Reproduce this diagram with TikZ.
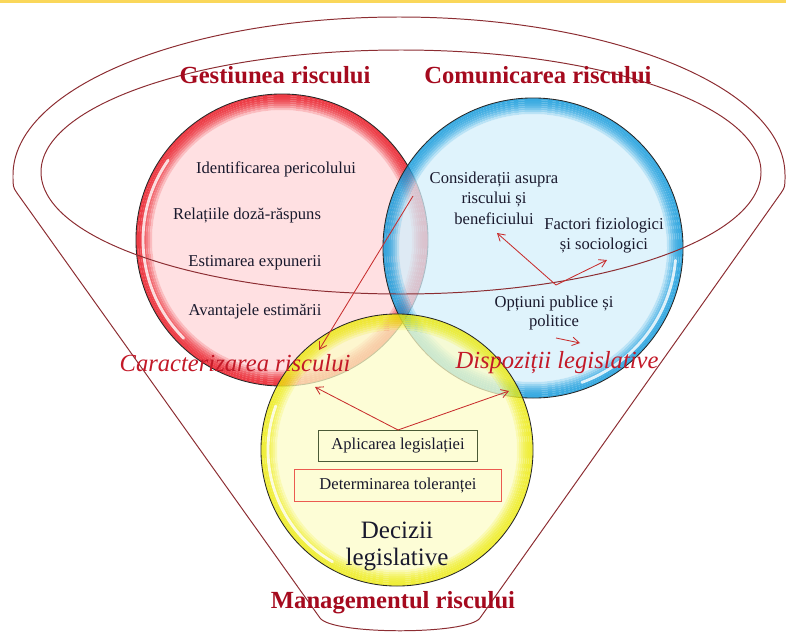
\documentclass[tikz,border=0pt]{standalone}
\usepackage{fontspec}
\setmainfont{Liberation Serif}
\usetikzlibrary{arrows.meta}
\definecolor{titlered}{RGB}{165,10,30}
\definecolor{itred}{RGB}{195,25,40}
\definecolor{linebrown}{RGB}{140,45,50}
\definecolor{arrred}{RGB}{200,45,45}
\definecolor{txtdark}{RGB}{25,25,45}
\definecolor{rd1}{RGB}{255,214,216}
\definecolor{rd2}{RGB}{232,12,24}
\definecolor{bl1}{RGB}{212,239,251}
\definecolor{bl2}{RGB}{10,150,218}
\definecolor{yl1}{RGB}{253,253,200}
\definecolor{yl2}{RGB}{236,234,10}
\definecolor{boxgreen}{RGB}{75,90,55}
\definecolor{boxred}{RGB}{235,90,80}
\definecolor{topband}{RGB}{250,215,90}

\begin{document}
\begin{tikzpicture}[x=0.025cm, y=-0.025cm,
    funnel/.style={draw=linebrown, line width=0.7pt},
    arr/.style={draw=arrred, line width=0.6pt, -{Straight Barb[length=5pt,width=6pt]}},
    inner/.style={text=txtdark, font=\fontsize{11.8}{14.2}\selectfont, align=center, inner sep=1pt},
    title/.style={text=titlered, font=\bfseries\fontsize{17.5}{20}\selectfont},
    itlabel/.style={text=itred, font=\itshape\fontsize{17.5}{20}\selectfont},
    gloss/.style={draw=white, line width=2pt, opacity=0.8, line cap=round}]
\useasboundingbox (0,0) rectangle (786,632);
\fill[topband] (0,0) rectangle (786,3);

% circles: light inside, rings towards the rim
\foreach \n/\cx/\cy/\r/\d in {rd/282/240/146/7.3cm, bl/533/248/150/7.5cm, yl/397/450/136/6.8cm}
{
    \fill[\n1, fill opacity=0.75] (\cx,\cy) circle[radius=\r-16];
    \foreach \k in {0,...,7}
    {
        \pgfmathtruncatemacro{\p}{100-1.6*\k*\k}
        \draw[\n2!\p!\n1, line width=1.42pt, opacity=0.8] (\cx,\cy) circle[radius=\r-1-2*\k];
    }
    \node[circle, draw=black!85, line width=0.6pt, inner sep=0pt, minimum size=\d] (\n) at (\cx,\cy) {};
}
\draw[gloss] (rd.center) ++(135:139) arc[start angle=135, end angle=215, radius=139];
\draw[gloss] (bl.center) ++(5:143) arc[start angle=5, end angle=70, radius=143];
\draw[gloss] (yl.center) ++(120:129) arc[start angle=120, end angle=200, radius=129];

% funnel and ellipse
\draw[funnel] (320,618) -- (17,193) .. controls (13,187) .. (13,175)
    arc[start angle=180, end angle=360, x radius=386, y radius=158]
    .. controls (785,187) .. (781,193) -- (480,618)
    .. controls (468,635) and (332,635) .. (320,618);
\draw[funnel] (401,172) ellipse[x radius=360, y radius=122];

% titles
\node[title] (gest) at (275,75) {Gestiunea riscului};
\node[title] (comun) at (538,75) {Comunicarea riscului};
\node[title] (manag) at (393,603) {Managementul riscului};

\foreach \x/\y/\txt [count=\i] in {276/169/Identificarea pericolului, 247/216/Relațiile doză-răspuns, 255/263/Estimarea expunerii, 255/312/Avantajele estimării}
{
    \node[inner] (g\i) at (\x,\y) {\txt};
}

\node[inner, font=\fontsize{11.8}{14.5}\selectfont] (consid) at (494,198) {Considerații asupra\\riscului și\\beneficiului};
\node[inner] (factori) at (604,235) {Factori fiziologici\\și sociologici};
\node[inner, font=\fontsize{11.8}{13.5}\selectfont] (optiuni) at (554,313) {Opțiuni publice și\\politice};

\node[itlabel] (caract) at (235,363) {Caracterizarea riscului};
\node[itlabel] (dispoz) at (557,363) {Dispoziții legislative};

\node[inner, draw=boxgreen, line width=0.6pt, minimum width=3.98cm, minimum height=0.78cm] (aplic) at (398,446) {Aplicarea legislației};
\node[inner, draw=boxred, line width=0.6pt, minimum width=5.18cm, minimum height=0.8cm] (determ) at (398,485) {Determinarea toleranței};
\node[text=txtdark, font=\fontsize{17.8}{19.2}\selectfont, align=center] (decizii) at (397,546) {Decizii\\legislative};

% arrows
\coordinate (hub) at (556,285);
\coordinate (cTip) at (497,233);
\coordinate (fTip) at (607,260);
\draw[arr] (hub) -- (cTip);
\draw[arr] (hub) -- (fTip);
\coordinate (lStart) at (413,196);
\coordinate (lTip) at (319,350);
\draw[arr] (lStart) -- (lTip);
\coordinate (pStart) at (556,338);
\coordinate (pTip) at (580,343);
\draw[arr] (pStart) -- (pTip);
\coordinate (yTipL) at (315,387);
\coordinate (yTipR) at (509,391);
\draw[arr] (aplic.north) -- (yTipL);
\draw[arr] (aplic.north) -- (yTipR);
\end{tikzpicture}
\end{document}
